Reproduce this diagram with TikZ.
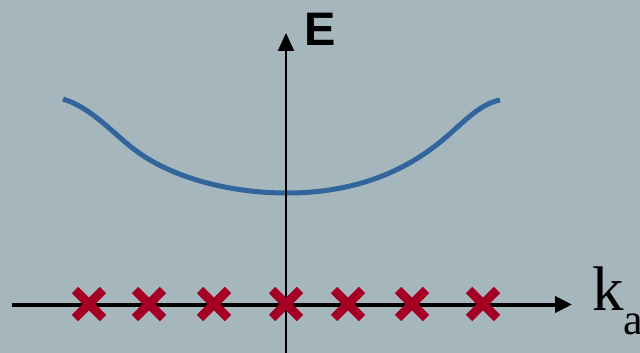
\documentclass[tikz,border=0pt]{standalone}
\usepackage{fontspec}
\setmainfont{Liberation Serif}
\newfontfamily\labelsans{Liberation Sans}
\usetikzlibrary{arrows.meta}
\definecolor{bgc}{RGB}{166,182,189}
\definecolor{bandblue}{RGB}{49,101,156}
\definecolor{atomred}{RGB}{165,0,36}
\tikzset{
  axisline/.style={black,-{Triangle[length=18pt,width=16pt]}},
  atomcross/.style={atomred,line width=9pt},
  bandcurve/.style={bandblue,line width=5pt}
}
\begin{document}
\begin{tikzpicture}[x=1pt,y=-1pt]
\useasboundingbox (0,0) rectangle (640,353);
\fill[bgc] (0,0) rectangle (640,353);
% band curve
\draw[bandcurve] (63,99) .. controls (92,108) and (112,132.7) .. (135,150)
  .. controls (165,173) and (220,193) .. (287,193)
  .. controls (360,193) and (410,168) .. (445,138)
  .. controls (465,120.9) and (480,104) .. (500,100);
% axes
\coordinate (vbot) at (286,356);
\coordinate (vtop) at (286,33);
\coordinate (hleft) at (12,304.5);
\coordinate (hright) at (572,304.5);
\draw[axisline,line width=2pt] (vbot) -- (vtop);
\draw[axisline,line width=4pt,-{Triangle[length=17pt,width=16pt]}] (hleft) -- (hright);
% crosses
\foreach \i/\cx in {1/89,2/149,3/214,4/286,5/348,6/412,7/483}{
  \coordinate (c\i) at (\cx,304);
  \draw[atomcross] ([shift={(-14,-14)}]c\i) -- ([shift={(14,14)}]c\i);
  \draw[atomcross] ([shift={(-14,14)}]c\i) -- ([shift={(14,-14)}]c\i);
}
% labels
\node[anchor=base west,inner sep=0pt] (elabel) at (304,46) {\labelsans\bfseries\fontsize{47}{47}\selectfont E};
\node[anchor=base west,inner sep=0pt] (klabel) at (592,310) {\fontsize{63}{63}\selectfont k\raisebox{-24pt}{\fontsize{44}{44}\selectfont a}};
\end{tikzpicture}
\end{document}
